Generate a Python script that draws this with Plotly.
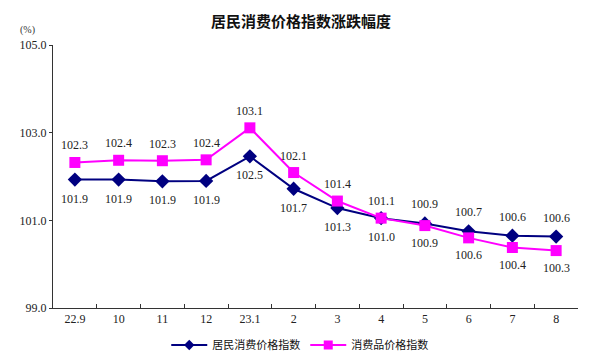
import plotly.graph_objects as go

categories = ["22.9", "10", "11", "12", "23.1", "2", "3", "4", "5", "6", "7", "8"]
cpi_values = [101.93, 101.93, 101.89, 101.90, 102.46, 101.72, 101.28, 101.05, 100.93, 100.75, 100.65, 100.63]
cpi_labels = ["101.9", "101.9", "101.9", "101.9", "102.5", "101.7", "101.3", "101.0", "100.9", "100.7", "100.6", "100.6"]
goods_values = [102.32, 102.37, 102.36, 102.38, 103.11, 102.09, 101.44, 101.05, 100.88, 100.60, 100.38, 100.31]
goods_labels = ["102.3", "102.4", "102.3", "102.4", "103.1", "102.1", "101.4", "101.1", "100.9", "100.6", "100.4", "100.3"]
# label side: +1 above point, -1 below point
cpi_side = [-1, -1, -1, -1, -1, -1, -1, -1, 1, 1, 1, 1]
goods_side = [1, 1, 1, 1, 1, 1, 1, 1, -1, -1, -1, -1]
y_ticks = [99, 101, 103, 105]
y_tick_text = ["99.0", "101.0", "103.0", "105.0"]

NAVY = "#000080"
MAGENTA = "#FF00FF"
FONT = "Noto Sans CJK SC"
NUMFONT = "Liberation Serif"

fig = go.Figure()
fig.add_trace(go.Scatter(
    x=categories, y=cpi_values, mode="lines+markers", name="居民消费价格指数",
    line=dict(color=NAVY, width=2), showlegend=False,
    marker=dict(symbol="diamond", size=11, color=NAVY),
))
fig.add_trace(go.Scatter(
    x=categories, y=goods_values, mode="lines+markers", name="消费品价格指数",
    line=dict(color=MAGENTA, width=2), showlegend=False,
    marker=dict(symbol="square", size=11, color=MAGENTA),
))
# legend entries with smaller symbols, as in the reference
fig.add_trace(go.Scatter(
    x=[None], y=[None], mode="lines+markers", name="居民消费价格指数",
    line=dict(color=NAVY, width=2), marker=dict(symbol="diamond", size=8, color=NAVY),
))
fig.add_trace(go.Scatter(
    x=[None], y=[None], mode="lines+markers", name="消费品价格指数",
    line=dict(color=MAGENTA, width=2), marker=dict(symbol="square", size=9, color=MAGENTA),
))

for i, (v, t, s) in enumerate(zip(cpi_values, cpi_labels, cpi_side)):
    fig.add_annotation(x=i, y=v, xref="x", yref="y", text=t, showarrow=False,
                       yshift=19 * s, font=dict(size=12, color="#222222", family=NUMFONT))
for i, (v, t, s) in enumerate(zip(goods_values, goods_labels, goods_side)):
    fig.add_annotation(x=i, y=v, xref="x", yref="y", text=t, showarrow=False,
                       yshift=17 * s, font=dict(size=12, color="#222222", family=NUMFONT))
fig.add_annotation(x=-0.048, y=1.057, xref="paper", yref="paper", text="(%)", showarrow=False,
                   xanchor="center", yanchor="middle",
                   font=dict(size=10, color="#333333", family=NUMFONT))

fig.update_layout(
    width=592, height=354,
    margin=dict(l=45, r=22, t=37, b=54, autoexpand=False),
    paper_bgcolor="white", plot_bgcolor="white",
    title=dict(text="<b>居民消费价格指数涨跌幅度</b>", x=0.495, xanchor="center", y=0.96, yanchor="middle",
               font=dict(size=15, color="#111111", family=FONT)),
    showlegend=True,
    legend=dict(orientation="h", x=0.47, xanchor="center", y=0.048, yref="container", yanchor="middle",
                font=dict(size=11, color="#111111", family=FONT), itemwidth=36,
                tracegroupgap=0),
    font=dict(family=NUMFONT, size=12, color="#222222"),
)
fig.update_xaxes(
    type="category", range=[-0.5, 11.5], showgrid=False, showline=True, linecolor="#333333", linewidth=1,
    ticks="inside", ticklen=4, tickcolor="#333333", tickson="boundaries",
    tickfont=dict(size=12, family=NUMFONT, color="#222222"),
)
fig.update_yaxes(
    range=[99, 105], tickvals=y_ticks, ticktext=y_tick_text, showgrid=False, zeroline=False,
    showline=True, linecolor="#333333", linewidth=1, ticks="outside", ticklen=3, tickcolor="#333333",
    tickfont=dict(size=12, family=NUMFONT, color="#222222"),
)

fig.write_html("out.html")
